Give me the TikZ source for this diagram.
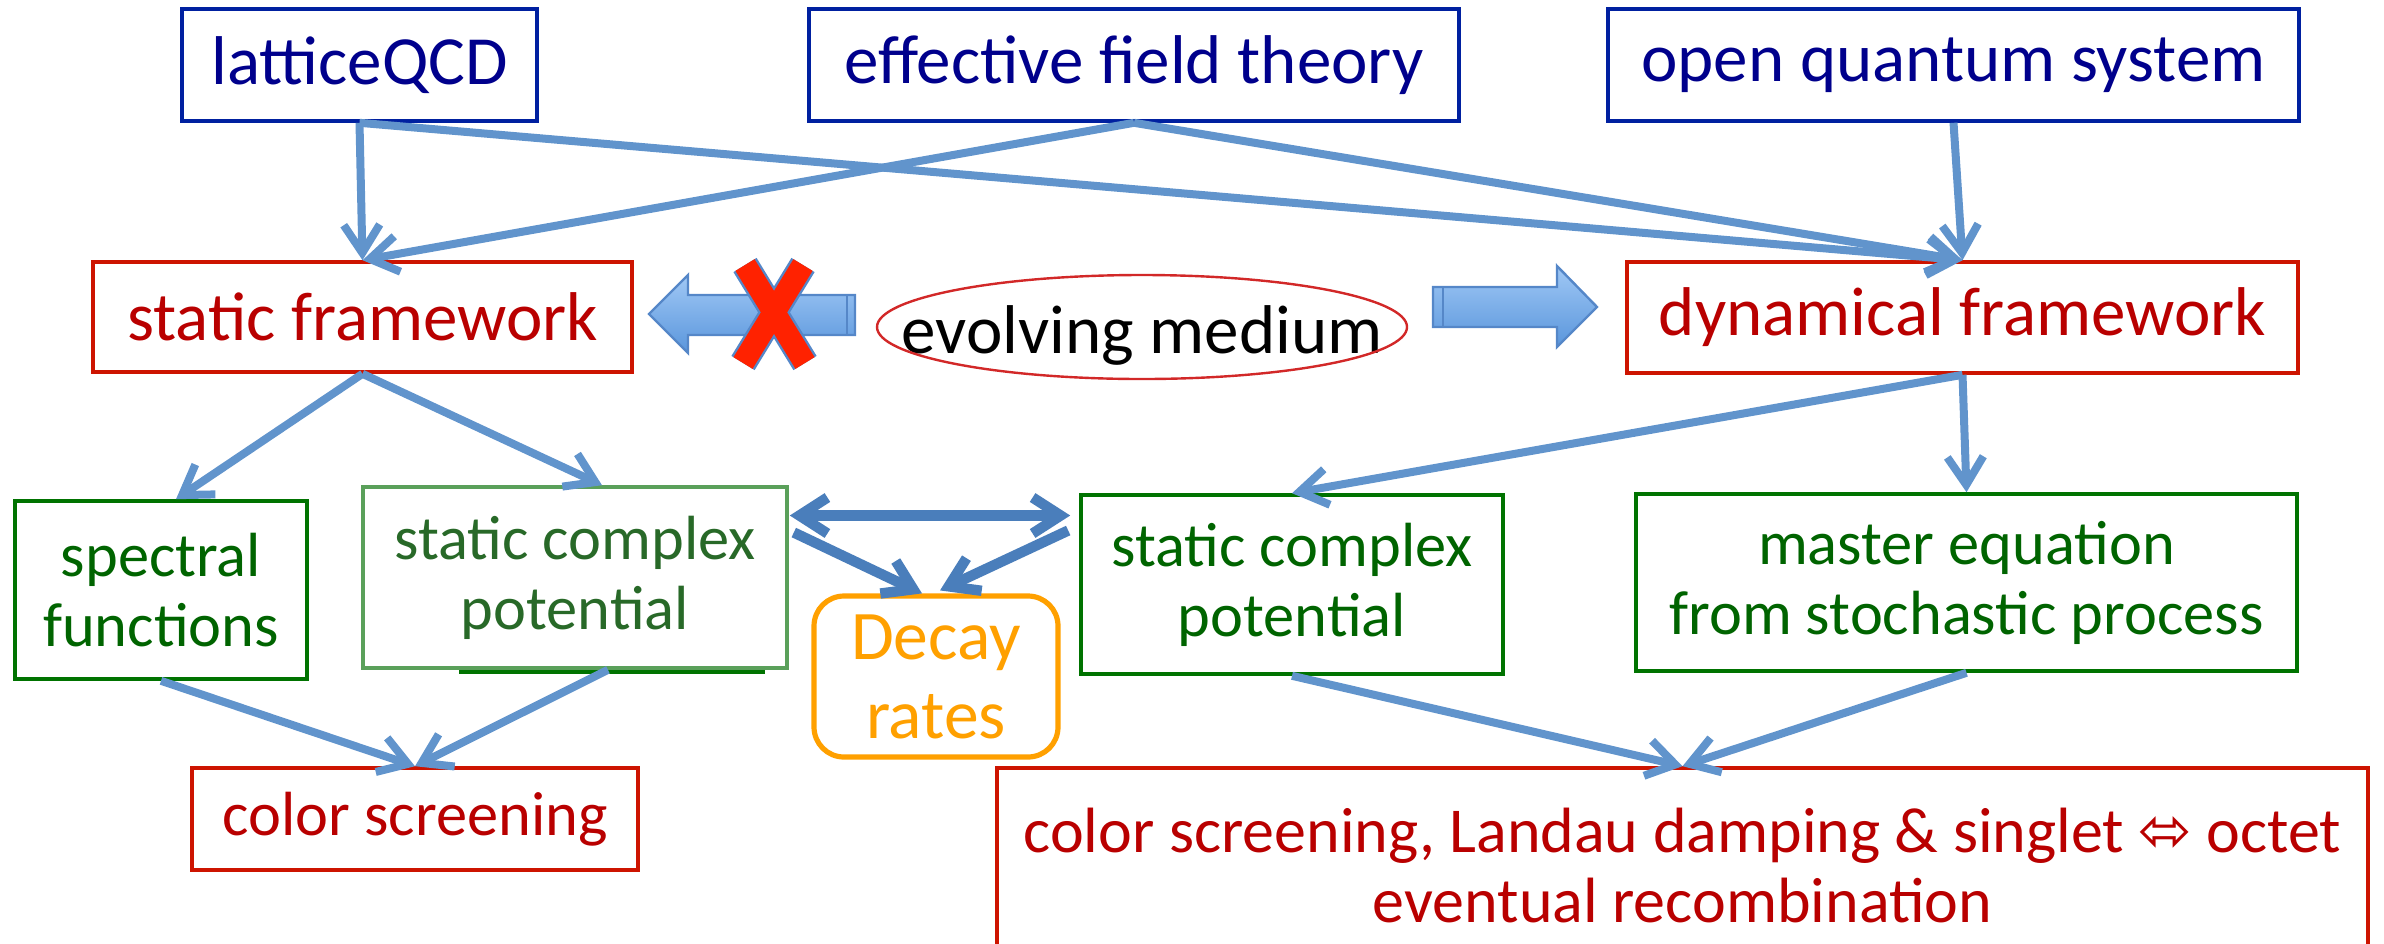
\documentclass[tikz,border=0pt]{standalone}
\usepackage{fontspec}
\setmainfont{Carlito}
\newfontfamily\symfont{DejaVu Sans}
\usetikzlibrary{arrows.meta,calc,shapes.geometric}
\definecolor{txtblue}{RGB}{0,0,140}
\definecolor{bordblue}{RGB}{0,32,160}
\definecolor{txtred}{RGB}{185,0,0}
\definecolor{bordred}{RGB}{205,20,0}
\definecolor{txtgreen}{RGB}{0,100,0}
\definecolor{bordgreen}{RGB}{0,115,0}
\definecolor{paletxt}{RGB}{40,105,40}
\definecolor{palebord}{RGB}{90,160,90}
\definecolor{orng}{RGB}{255,160,0}
\definecolor{connblue}{RGB}{97,148,204}
\definecolor{darkconn}{RGB}{74,126,187}
\definecolor{ellred}{RGB}{210,40,40}
\definecolor{arrtop}{RGB}{160,200,245}
\definecolor{arrbot}{RGB}{90,150,220}
\definecolor{arredge}{RGB}{85,135,200}
\definecolor{xred}{RGB}{255,34,0}
\newcommand\fbig{\fontsize{17.25}{20.5}\selectfont}
\newcommand\fmid{\fontsize{15.6}{17.5}\selectfont}
\newcommand\fbigbox{\fontsize{16}{17.5}\selectfont}
\newcommand\fdec{\fontsize{17.4}{19.75}\selectfont}
\begin{document}
\begin{tikzpicture}[x=0.25pt,y=-0.25pt,
  box/.style={draw, rectangle, inner sep=0pt, align=center, line width=0.9pt},
  bluebox/.style={box, draw=bordblue, text=txtblue, font=\fbig, minimum height=28pt},
  redbox/.style={box, draw=bordred, text=txtred},
  greenbox/.style={box, draw=bordgreen, text=txtgreen, font=\fmid},
  conn/.style={draw=connblue, line width=2pt, -{Straight Barb[length=7pt,width=9pt]}},
  dconn/.style={draw=darkconn, line width=2.6pt, -{Straight Barb[length=7pt,width=9pt]}},
  blockarrow/.style={top color=arrtop, bottom color=arrbot, draw=arredge, line width=0.6pt, line join=miter}]
\useasboundingbox (0,0) rectangle (2384,943);
\clip (0,0) rectangle (2384,943);

% top row
\node[bluebox, minimum width=88.75pt] (lqcd) at (359.5,65) {latticeQCD};
\node[bluebox, minimum width=162.5pt] (eft) at (1134,65) {effective field theory};
\node[bluebox, minimum width=172.75pt] (oqs) at (1953.5,65) {open quantum system};

% frameworks
\node[redbox, font=\fbig, minimum width=134.75pt, minimum height=27.5pt] (sf) at (362.5,317) {static framework};
\node[redbox, font=\fbig, minimum width=167.75pt, minimum height=27.75pt] (df) at (1962.5,317.5) {dynamical framework};
\node[inner sep=0pt, font=\fbig] (em) at (1142,335) {evolving medium};
\draw[ellred, line width=0.6pt] (1142,327) ellipse [x radius=66.25pt, y radius=13pt];

% block arrows
\path[blockarrow] (649,314) -- (688,275) -- (688,295) -- (855,295) -- (855,335) -- (688,335) -- (688,353) -- cycle;
\draw[arredge, line width=0.6pt] (847,295) -- (847,335);
\path[blockarrow] (1433,287) -- (1557,287) -- (1557,266) -- (1597,307) -- (1557,347) -- (1557,327) -- (1433,327) -- cycle;
\draw[arredge, line width=0.6pt] (1443,287) -- (1443,327);

% red cross
\draw[arredge, line width=6.8pt] (745,265) -- (805,363) (803,265) -- (743,363);
\draw[xred, line width=5.6pt] (745,265) -- (805,363) (803,265) -- (743,363);

% second row
\node[greenbox, minimum width=73pt, minimum height=44.5pt] (spec) at (161,590) {spectral\\functions};
\node[box, draw=palebord, text=paletxt, font=\fmid, minimum width=106pt, minimum height=45.25pt] (scpL) at (575,577.5) {static complex\\potential};
\draw[bordgreen, line width=0.9pt] (459,672) -- (765,672);
\node[box, draw=orng, text=orng, line width=1.3pt, rounded corners=7.5pt, font=\fdec, minimum width=61pt, minimum height=40.25pt] (decay) at (936,676.5) {Decay\\rates};
\node[greenbox, minimum width=105.5pt, minimum height=44.75pt] (scpR) at (1292,584.5) {static complex\\potential};
\node[greenbox, minimum width=165.25pt, minimum height=44.25pt] (master) at (1966.5,582.5) {master equation\\from stochastic process};

% bottom row
\node[redbox, font=\fmid, minimum width=111.5pt, minimum height=25.5pt] (csL) at (415,819) {color screening};
\node[redbox, font=\fbigbox, minimum width=342.75pt, minimum height=48.5pt] (big) at (1682.5,865) {color screening, Landau damping \& singlet {\symfont ⬄} octet\\eventual recombination};

% connectors
\draw[conn] (lqcd.south) -- (sf.north);
\draw[conn] (eft.south) -- (sf.north);
\draw[conn] (lqcd.south) -- (df.north);
\draw[conn] (eft.south) -- (df.north);
\draw[conn] (oqs.south) -- (df.north);
\draw[conn] (sf.south) -- ($(spec.north)+(15,0)$);
\draw[conn] (sf.south) -- ($(scpL.north)+(27,0)$);
\draw[conn] (spec.south) -- (csL.north);
\draw[conn] ($(scpL.south)+(33,0)$) -- (csL.north);
\draw[conn] (df.south) -- (scpR.north);
\draw[conn] (df.south) -- (master.north);
\draw[conn] (scpR.south) -- (big.north);
\draw[conn] (master.south) -- (big.north);

% decay connectors
\draw[draw=darkconn, line width=2.6pt, {Straight Barb[length=7pt,width=9pt]}-{Straight Barb[length=7pt,width=9pt]}] ($(scpL.east)+(1,-62)$) -- ($(scpR.west)+(-9,-69)$);
\draw[dconn] ($(scpL.east)+(5,-45)$) -- ($(decay.north)+(-14,0)$);
\draw[dconn] ($(scpR.west)+(-11,-54)$) -- ($(decay.north)+(4,-3)$);
\end{tikzpicture}
\end{document}
